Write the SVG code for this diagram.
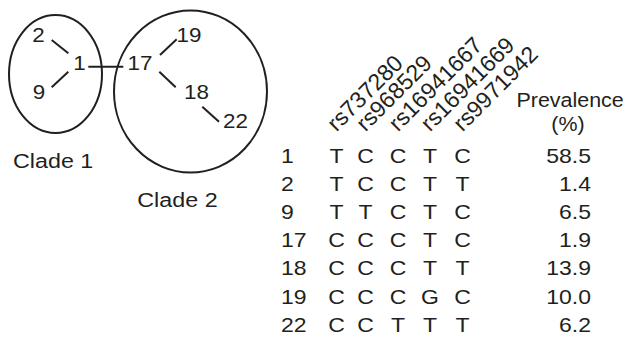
<svg xmlns="http://www.w3.org/2000/svg" width="625" height="339" viewBox="0 0 625 339">
<style>
text{font-family:"Liberation Sans",Arial,sans-serif;fill:#231f20}
.n{font-size:20px;text-anchor:middle}
.cl{font-size:21px}
.t{font-size:20px}
.c{font-size:20px;text-anchor:middle}
.v{font-size:20px;text-anchor:end}
.p{font-size:19.5px}
.pc{font-size:19.5px;text-anchor:middle}
.rs{font-size:23px}
.e{fill:none;stroke:#231f20;stroke-width:2}
.l{stroke:#231f20;stroke-width:2}
</style>
<rect width="625" height="339" fill="#fff"/>
<g id="clade1">
<ellipse class="e" cx="55.5" cy="74" rx="46.5" ry="59"/>
<text class="cl" transform="translate(13,167.5) scale(1.11,1)">Clade 1</text>
</g>
<g id="clade2">
<ellipse class="e" cx="190.5" cy="91.5" rx="76.5" ry="81"/>
<text class="cl" transform="translate(137.3,206.5) scale(1.11,1)">Clade 2</text>
</g>
<g id="node2"><text class="n" transform="translate(38.5,41.7) scale(1.12,1)">2</text></g>
<g id="node1"><text class="n" transform="translate(79.5,70) scale(1.12,1)">1</text></g>
<g id="node9"><text class="n" transform="translate(39,99) scale(1.12,1)">9</text></g>
<g id="node17"><text class="n" transform="translate(140,70) scale(1.12,1)">17</text></g>
<g id="node19"><text class="n" transform="translate(189,41.7) scale(1.12,1)">19</text></g>
<g id="node18"><text class="n" transform="translate(196.5,99) scale(1.12,1)">18</text></g>
<g id="node22"><text class="n" transform="translate(235.5,128) scale(1.12,1)">22</text></g>
<g id="connectors">
<line class="l" x1="51.7" y1="40" x2="68.3" y2="53.3"/>
<line class="l" x1="51.7" y1="87.3" x2="68.3" y2="71.7"/>
<line class="l" x1="88.3" y1="66.7" x2="123.3" y2="66.7"/>
<line class="l" x1="160" y1="55" x2="176.7" y2="39.3"/>
<line class="l" x1="159.3" y1="71.7" x2="175.7" y2="87.3"/>
<line class="l" x1="202.3" y1="106.7" x2="219" y2="121.7"/>
</g>
<g id="snp-headers">
<text class="rs" transform="translate(336.5,132.5) rotate(-45)">rs737280</text>
<text class="rs" transform="translate(365.5,132.5) rotate(-45)">rs968529</text>
<text class="rs" transform="translate(398,132.5) rotate(-45)">rs16941667</text>
<text class="rs" transform="translate(430,132.5) rotate(-45)">rs16941669</text>
<text class="rs" transform="translate(462.5,132.5) rotate(-45)">rs9971942</text>
<text class="p" transform="translate(516.5,107.3) scale(1.1,1)">Prevalence</text>
<text class="pc" transform="translate(568,131) scale(1.1,1)">(%)</text>
</g>
<g id="table">
<g class="row"><text class="t" transform="translate(281,162.5) scale(1.15,1)">1</text><text class="c" transform="translate(336.5,162.5) scale(1.15,1)">T</text><text class="c" transform="translate(365.5,162.5) scale(1.15,1)">C</text><text class="c" transform="translate(398,162.5) scale(1.15,1)">C</text><text class="c" transform="translate(430,162.5) scale(1.15,1)">T</text><text class="c" transform="translate(462.5,162.5) scale(1.15,1)">C</text><text class="v" transform="translate(591,162.5) scale(1.15,1)">58.5</text></g>
<g class="row"><text class="t" transform="translate(281,190.7) scale(1.15,1)">2</text><text class="c" transform="translate(336.5,190.7) scale(1.15,1)">T</text><text class="c" transform="translate(365.5,190.7) scale(1.15,1)">C</text><text class="c" transform="translate(398,190.7) scale(1.15,1)">C</text><text class="c" transform="translate(430,190.7) scale(1.15,1)">T</text><text class="c" transform="translate(462.5,190.7) scale(1.15,1)">T</text><text class="v" transform="translate(591,190.7) scale(1.15,1)">1.4</text></g>
<g class="row"><text class="t" transform="translate(281,218.9) scale(1.15,1)">9</text><text class="c" transform="translate(336.5,218.9) scale(1.15,1)">T</text><text class="c" transform="translate(365.5,218.9) scale(1.15,1)">T</text><text class="c" transform="translate(398,218.9) scale(1.15,1)">C</text><text class="c" transform="translate(430,218.9) scale(1.15,1)">T</text><text class="c" transform="translate(462.5,218.9) scale(1.15,1)">C</text><text class="v" transform="translate(591,218.9) scale(1.15,1)">6.5</text></g>
<g class="row"><text class="t" transform="translate(281,247.1) scale(1.15,1)">17</text><text class="c" transform="translate(336.5,247.1) scale(1.15,1)">C</text><text class="c" transform="translate(365.5,247.1) scale(1.15,1)">C</text><text class="c" transform="translate(398,247.1) scale(1.15,1)">C</text><text class="c" transform="translate(430,247.1) scale(1.15,1)">T</text><text class="c" transform="translate(462.5,247.1) scale(1.15,1)">C</text><text class="v" transform="translate(591,247.1) scale(1.15,1)">1.9</text></g>
<g class="row"><text class="t" transform="translate(281,275.3) scale(1.15,1)">18</text><text class="c" transform="translate(336.5,275.3) scale(1.15,1)">C</text><text class="c" transform="translate(365.5,275.3) scale(1.15,1)">C</text><text class="c" transform="translate(398,275.3) scale(1.15,1)">C</text><text class="c" transform="translate(430,275.3) scale(1.15,1)">T</text><text class="c" transform="translate(462.5,275.3) scale(1.15,1)">T</text><text class="v" transform="translate(591,275.3) scale(1.15,1)">13.9</text></g>
<g class="row"><text class="t" transform="translate(281,303.5) scale(1.15,1)">19</text><text class="c" transform="translate(336.5,303.5) scale(1.15,1)">C</text><text class="c" transform="translate(365.5,303.5) scale(1.15,1)">C</text><text class="c" transform="translate(398,303.5) scale(1.15,1)">C</text><text class="c" transform="translate(430,303.5) scale(1.15,1)">G</text><text class="c" transform="translate(462.5,303.5) scale(1.15,1)">C</text><text class="v" transform="translate(591,303.5) scale(1.15,1)">10.0</text></g>
<g class="row"><text class="t" transform="translate(281,331.7) scale(1.15,1)">22</text><text class="c" transform="translate(336.5,331.7) scale(1.15,1)">C</text><text class="c" transform="translate(365.5,331.7) scale(1.15,1)">C</text><text class="c" transform="translate(398,331.7) scale(1.15,1)">T</text><text class="c" transform="translate(430,331.7) scale(1.15,1)">T</text><text class="c" transform="translate(462.5,331.7) scale(1.15,1)">T</text><text class="v" transform="translate(591,331.7) scale(1.15,1)">6.2</text></g>
</g>
</svg>
